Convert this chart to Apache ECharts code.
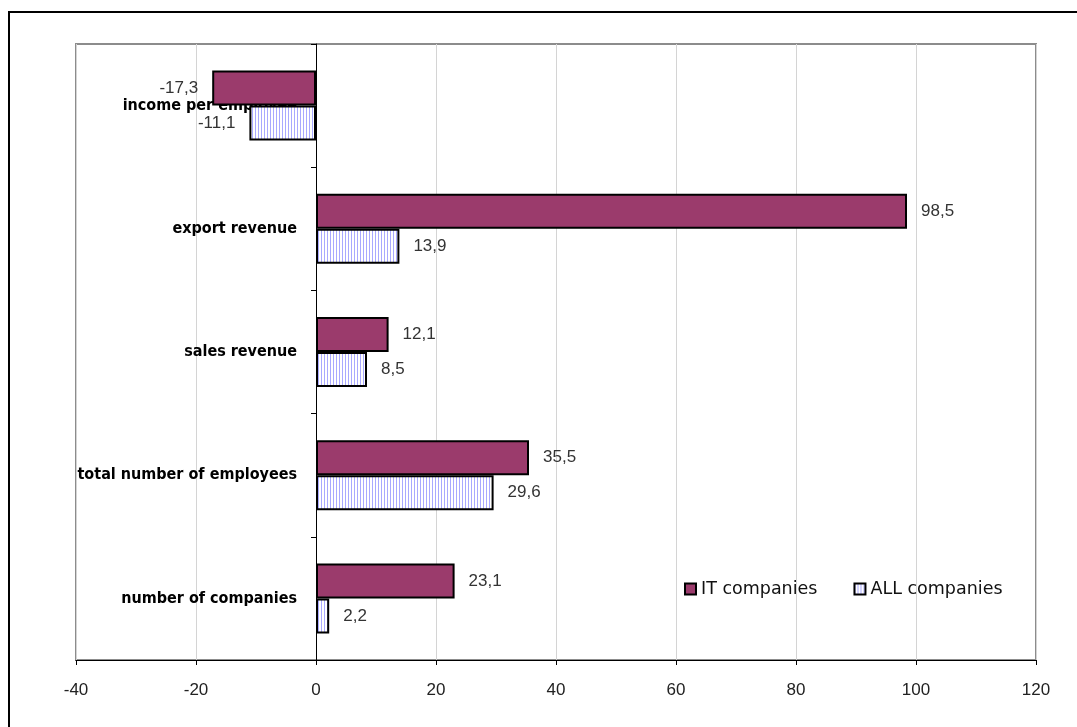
<!DOCTYPE html>
<html>
<head>
<meta charset="utf-8">
<script src="https://cdn.jsdelivr.net/npm/echarts@6/dist/echarts.min.js"></script>
<style>
  html, body { margin: 0; padding: 0; background: #fff; }
  #chart { width: 1077px; height: 727px; }
</style>
</head>
<body>
<div id="chart"></div>
<script>
// categories, top to bottom
const categories = [
  'income per employee',
  'export revenue',
  'sales revenue',
  'total number of employees',
  'number of companies'
];
const itValues = [-17.3, 98.5, 12.1, 35.5, 23.1];
const allValues = [-11.1, 13.9, 8.5, 29.6, 2.2];
const seriesNames = ['IT companies', 'ALL companies'];
const xMin = -40, xMax = 120, xStep = 20;

// grid box
const gLeft = 76, gRight = 41, gTop = 44, gBottom = 67;
const plotW = 1077 - gLeft - gRight;
// move the category axis onto x = 0 (labels follow it)
const yOffset = -(0 - xMin) / (xMax - xMin) * plotW;

// white with thin blue vertical stripes
const stripe = document.createElement('canvas');
stripe.width = 3;
stripe.height = 4;
const ctx = stripe.getContext('2d');
ctx.fillStyle = '#ffffff';
ctx.fillRect(0, 0, 3, 4);
ctx.fillStyle = '#a9a9ff';
ctx.fillRect(0, 0, 1, 4);

let fmt = v => String(v).replace('.', ',');

let makeData = function (arr) {
  return arr.map(v => ({
    value: v,
    label: { position: v < 0 ? 'left' : 'right' }
  }));
};

let labelStyle = {
  show: true,
  distance: 14,
  color: '#333',
  fontFamily: 'Liberation Sans, Arial, sans-serif',
  fontSize: 17,
  formatter: p => fmt(p.value)
};

const chart = echarts.init(document.getElementById('chart'));
chart.setOption({
  animation: false,
  backgroundColor: '#fff',
  graphic: [{
    type: 'rect',
    shape: { x: 9, y: 12, width: 1100, height: 760 },
    style: { fill: 'none', stroke: '#000', lineWidth: 2 },
    z: -1
  }],
  grid: {
    left: gLeft, right: gRight, top: gTop, bottom: gBottom,
    containLabel: false,
    outerBoundsMode: 'none',
    show: true,
    borderColor: '#8c8c8c',
    borderWidth: 2
  },
  legend: {
    data: seriesNames,
    left: 679,
    top: 575,
    itemWidth: 11,
    itemHeight: 11,
    itemGap: 36,
    icon: 'rect',
    textStyle: {
      fontFamily: 'DejaVu Sans, sans-serif',
      fontSize: 17.5,
      color: '#111'
    }
  },
  xAxis: {
    type: 'value',
    min: xMin,
    max: xMax,
    interval: xStep,
    axisLine: { show: true, onZero: false, lineStyle: { color: '#000', width: 1 } },
    axisTick: { show: true, length: 5, lineStyle: { color: '#000' } },
    axisLabel: {
      margin: 22,
      color: '#222',
      fontFamily: 'Liberation Sans, Arial, sans-serif',
      fontSize: 17
    },
    splitLine: { show: true, lineStyle: { color: '#d4d4d4', width: 1 } }
  },
  yAxis: {
    type: 'category',
    inverse: true,
    data: categories,
    offset: yOffset,
    axisLine: { show: true, onZero: false, lineStyle: { color: '#000', width: 1 } },
    axisTick: { show: true, length: 5, lineStyle: { color: '#000' } },
    axisLabel: {
      margin: 19,
      color: '#000',
      fontFamily: 'DejaVu Sans Condensed, DejaVu Sans, sans-serif',
      fontWeight: 'bold',
      fontSize: 16
    },
    splitLine: { show: false }
  },
  series: [
    {
      name: seriesNames[0],
      type: 'bar',
      barWidth: 35,
      barGap: '0%',
      data: makeData(itValues),
      itemStyle: { color: '#9b3b6c', borderColor: '#000', borderWidth: 2 },
      label: labelStyle
    },
    {
      name: seriesNames[1],
      type: 'bar',
      barWidth: 35,
      barGap: '0%',
      data: makeData(allValues),
      itemStyle: {
        color: { image: stripe, repeat: 'repeat' },
        borderColor: '#000',
        borderWidth: 2
      },
      label: labelStyle
    }
  ]
});
</script>
</body>
</html>
